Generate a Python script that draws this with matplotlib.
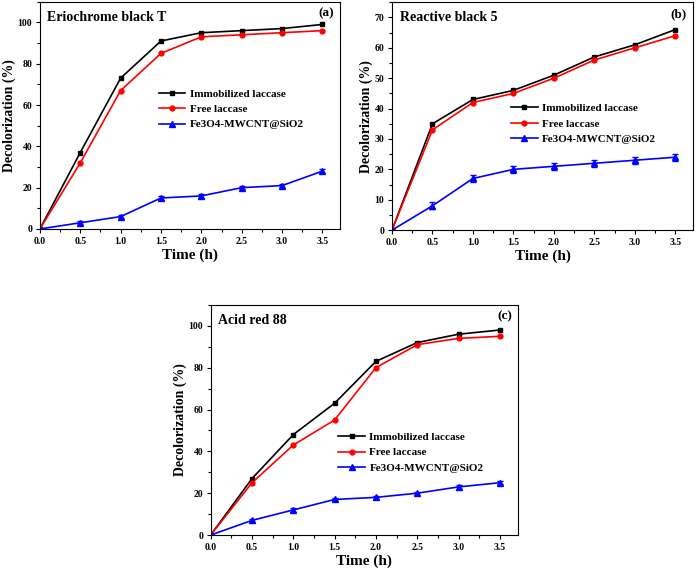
import numpy as np
import matplotlib.pyplot as plt
from matplotlib.ticker import MultipleLocator

plt.rcParams['font.family'] = ['Liberation Serif', 'DejaVu Serif']
plt.rcParams['font.weight'] = 'bold'

time_h = [0.0, 0.5, 1.0, 1.5, 2.0, 2.5, 3.0, 3.5]

# (a) Eriochrome black T
ebt_immobilized = [0, 37, 73, 91, 95, 96, 97, 99]
ebt_free = [0, 32, 67, 85, 93, 94, 95, 96]
ebt_support = [0, 3, 6, 15, 16, 20, 21, 28]
ebt_support_err = [0, 0.8, 0.8, 0.8, 0.8, 0.8, 0.8, 0.8]

# (b) Reactive black 5
rb5_immobilized = [0, 35, 43, 46, 51, 57, 61, 66]
rb5_free = [0, 33, 42, 45, 50, 56, 60, 64]
rb5_support = [0, 8, 17, 20, 21, 22, 23, 24]
rb5_support_err = [0, 1.2, 1.2, 1.2, 1.2, 1.2, 1.2, 1.2]

# (c) Acid red 88
ar88_immobilized = [0, 27, 48, 63, 83, 92, 96, 98]
ar88_free = [0, 25, 43, 55, 80, 91, 94, 95]
ar88_support = [0, 7, 12, 17, 18, 20, 23, 25]
ar88_support_err = [0, 0.8, 0.8, 0.8, 0.8, 0.8, 0.8, 0.8]

series_labels = ['Immobilized laccase', 'Free laccase', 'Fe3O4-MWCNT@SiO2']

fig = plt.figure(figsize=(7, 5.71), dpi=100)


def panel(rect, imm, free, sup, sup_err, title, tag, ymax, ymajor, leg_pos):
    ax = fig.add_axes(rect)
    ax.plot(time_h, imm, color='black', marker='s', ms=3.5, lw=1.2, label=series_labels[0])
    ax.plot(time_h, free, color='red', marker='o', ms=3.5, lw=1.2, label=series_labels[1])
    ax.errorbar(time_h, sup, yerr=sup_err, color='blue', fmt='none', capsize=2, elinewidth=0.8)
    ax.plot(time_h, sup, color='blue', marker='^', ms=4, lw=1.2, label=series_labels[2])
    ax.set_xlim(0, 3.72)
    ax.set_ylim(0, ymax)
    ax.xaxis.set_major_locator(MultipleLocator(0.5))
    ax.xaxis.set_minor_locator(MultipleLocator(0.25))
    ax.yaxis.set_major_locator(MultipleLocator(ymajor))
    ax.yaxis.set_minor_locator(MultipleLocator(ymajor / 2))
    ax.tick_params(which='both', direction='out', labelsize=7, width=0.8, pad=2.5)
    ax.tick_params(which='major', length=3)
    ax.tick_params(which='minor', length=2)
    ax.set_xlabel('Time (h)', fontsize=11, fontweight='bold', labelpad=2)
    ax.set_ylabel('Decolorization (%)', fontsize=10, fontweight='bold', labelpad=1)
    ax.text(0.025, 0.96, title, transform=ax.transAxes, fontsize=10, fontweight='bold',
            va='top', ha='left')
    ax.text(0.98, 0.975, tag, transform=ax.transAxes, fontsize=9.5, fontweight='bold',
            va='top', ha='right')
    ax.legend(loc='upper left', bbox_to_anchor=leg_pos, frameon=False, fontsize=8,
              handlelength=2.4, labelspacing=0.5, handletextpad=0.4, borderpad=0.2)
    return ax


panel([0.057, 0.599, 0.429, 0.398], ebt_immobilized, ebt_free, ebt_support, ebt_support_err,
      'Eriochrome black T', '(a)', 110, 20, (0.37, 0.65))
panel([0.56, 0.597, 0.43, 0.399], rb5_immobilized, rb5_free, rb5_support, rb5_support_err,
      'Reactive black 5', '(b)', 75, 10, (0.37, 0.59))
panel([0.301, 0.063, 0.439, 0.403], ar88_immobilized, ar88_free, ar88_support, ar88_support_err,
      'Acid red 88', '(c)', 110, 20, (0.39, 0.48))

fig.savefig('out.png', dpi=100)
